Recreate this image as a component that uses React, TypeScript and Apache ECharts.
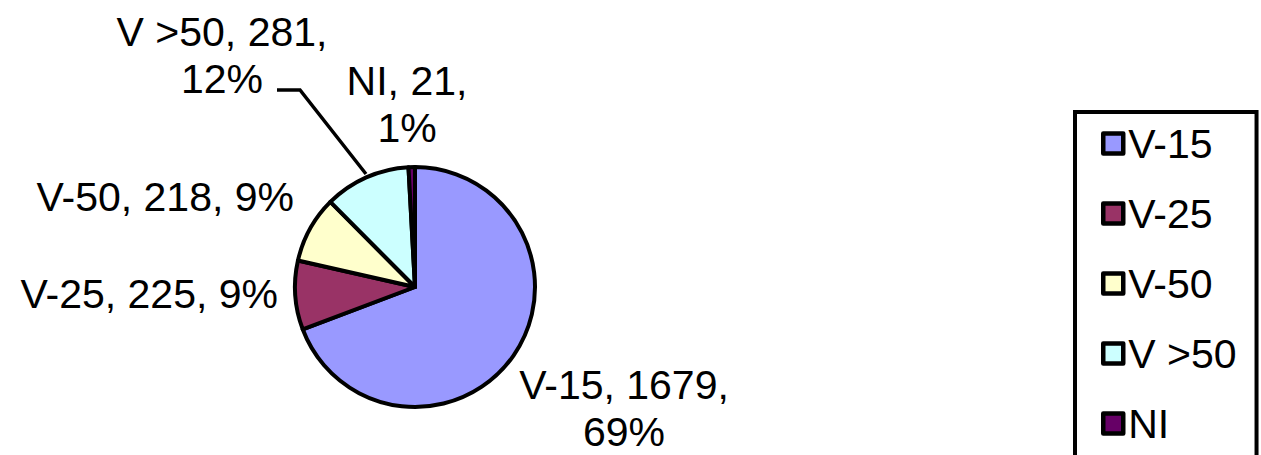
import React, { useEffect, useRef } from "react";
import * as echarts from "echarts";

const categories = ["V-15", "V-25", "V-50", "V >50", "NI"];
const values = [1679, 225, 218, 281, 21];
const colors = ["#9999FF", "#993366", "#FFFFCC", "#CCFFFF", "#660066"];
const wrapLabel = [true, false, false, true, true];

// label anchor positions (layout only)
const labelPos = [
  { x: 624, y: 408, align: "center" },
  { x: 278, y: 294, align: "right" },
  { x: 294, y: 197, align: "right" },
  { x: 222, y: 55, align: "center" },
  { x: 407, y: 104, align: "center" },
];
const leaderPoints = [[366, 174], [300, 90], [277, 90]];

const FONT = "'Liberation Sans', Arial, sans-serif";

export default function App() {
  const ref = useRef<HTMLDivElement>(null);
  useEffect(() => {
    const chart = echarts.init(ref.current!, null, { renderer: "svg" });
    chart.setOption({
      animation: false,
      legend: {
        orient: "vertical",
        left: 1075,
        top: 112,
        height: 440,
        padding: [11, 20, 40, 26],
        itemGap: 29,
        itemWidth: 20,
        itemHeight: 20,
        itemTextGap: 7,
        icon: "rect",
        borderColor: "#000",
        borderWidth: 4,
        backgroundColor: "#fff",
        itemStyle: { borderColor: "#000", borderWidth: 4.5 },
        textStyle: { fontFamily: FONT, fontSize: 41, color: "#000", lineHeight: 41 },
        data: categories,
        selectedMode: false,
      },
      series: [
        {
          type: "pie",
          center: [415, 287],
          radius: 120,
          startAngle: 90,
          clockwise: true,
          avoidLabelOverlap: false,
          percentPrecision: 0,
          silent: true,
          itemStyle: { borderColor: "#000", borderWidth: 4 },
          label: {
            show: true,
            position: "outside",
            fontFamily: FONT,
            fontSize: 41,
            lineHeight: 47,
            color: "#000",
            formatter: (p: any) =>
              wrapLabel[p.dataIndex]
                ? `${p.name}, ${p.value},\n${p.percent}%`
                : `${p.name}, ${p.value}, ${p.percent}%`,
          },
          labelLine: { show: false },
          labelLayout: (params: any) => {
            const pos = labelPos[params.dataIndex];
            const res: any = {
              x: pos.x,
              y: pos.y,
              align: pos.align,
              verticalAlign: "middle",
            };
            if (params.dataIndex === 3) res.labelLinePoints = leaderPoints;
            return res;
          },
          data: categories.map((name, i) => ({
            name,
            value: values[i],
            itemStyle: { color: colors[i], borderColor: "#000", borderWidth: 4 },
            labelLine:
              i === 3
                ? { show: true, lineStyle: { color: "#000", width: 3.5 } }
                : { show: false },
          })),
        },
      ],
    });
    return () => chart.dispose();
  }, []);
  return (
    <div
      ref={ref}
      style={{ position: "absolute", left: 0, top: 0, width: 1261, height: 455, background: "#fff" }}
    />
  );
}
